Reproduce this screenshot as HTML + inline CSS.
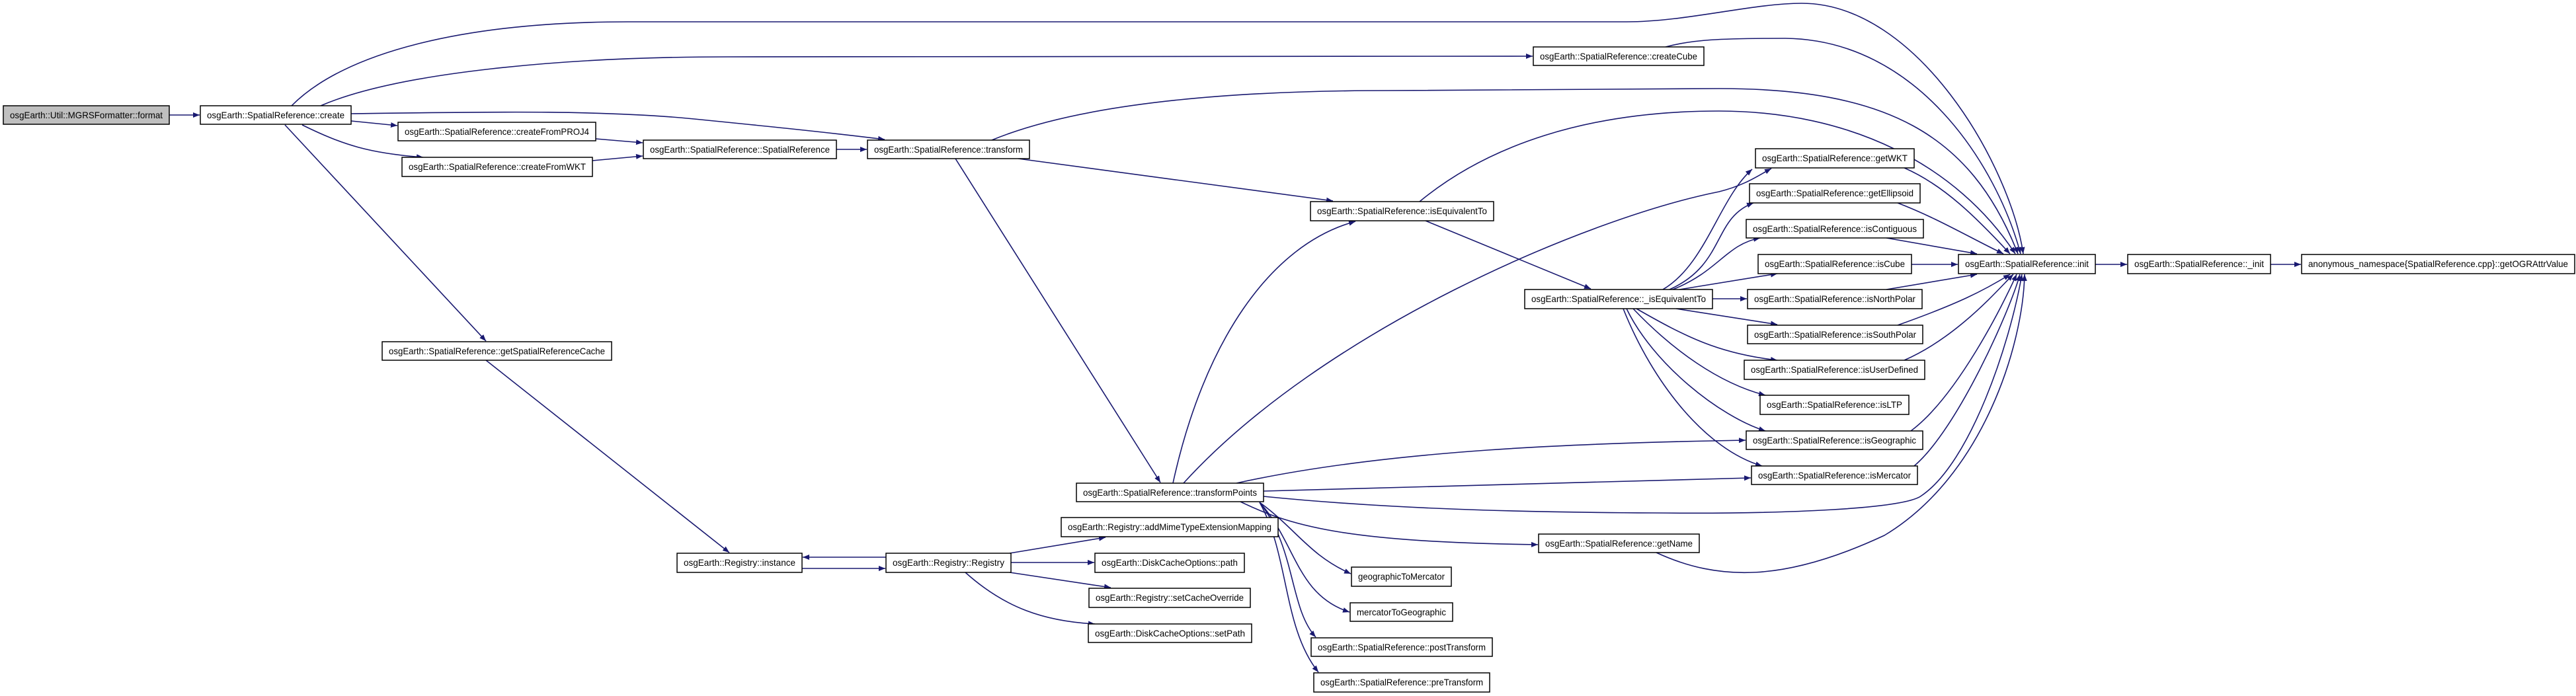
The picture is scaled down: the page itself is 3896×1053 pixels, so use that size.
<!DOCTYPE html>
<html><head><meta charset="utf-8"><style>
html,body{margin:0;padding:0;background:#fff;}
svg{display:block;}
text{font-family:"Liberation Sans",sans-serif;font-size:14px;fill:#000;}
.e{fill:none;stroke:#191970;stroke-width:1.6;}
.n{fill:#fff;stroke:#000;stroke-width:1.5;}
</style></head><body>
<svg width="3896" height="1053" viewBox="0 0 3896 1053" xmlns="http://www.w3.org/2000/svg">
<defs>
<marker id="a" viewBox="0 0 10 10" refX="10" refY="5" markerWidth="10" markerHeight="8" markerUnits="userSpaceOnUse" orient="auto" preserveAspectRatio="none">
<path d="M0,0 L10,5 L0,10 z" fill="#191970"/></marker>
</defs>
<g marker-end="url(#a)">
<path class="e" d="M256,174 L302,174"/>
<path class="e" d="M441,160 C520,80 700,33 950,33 L2460,33 C2550,33 2650,5 2725,5 C2900,5 3040,250 3060,384"/>
<path class="e" d="M485,160 C600,110 850,86 1100,86 L2318,85"/>
<path class="e" d="M2519,71 C2560,60 2600,58 2700,58 C2900,60 3020,250 3056,384"/>
<path class="e" d="M531,172 C700,170 900,165 1050,180 C1150,190 1250,200 1338,211"/>
<path class="e" d="M531,183 L601,190"/>
<path class="e" d="M457,189 C520,220 560,232 640,238"/>
<path class="e" d="M431,189 L735,516"/>
<path class="e" d="M901,210 L972,216"/>
<path class="e" d="M896,243 L972,236"/>
<path class="e" d="M1265,226 L1311,226"/>
<path class="e" d="M1500,212 C1650,150 1900,137 2100,137 L2600,134 C2850,134 2980,200 3052,384"/>
<path class="e" d="M1540,240 L2016,304"/>
<path class="e" d="M1445,240 L1755,730"/>
<path class="e" d="M1774,731 C1820,520 1920,370 2050,335"/>
<path class="e" d="M2147,305 C2250,220 2400,168 2600,168 C2800,168 2960,250 3048,384"/>
<path class="e" d="M1790,731 C2000,500 2400,330 2600,290 C2640,280 2660,265 2679,255"/>
<path class="e" d="M2156,334 L2406,437"/>
<path class="e" d="M2515,438 C2580,400 2600,300 2650,256"/>
<path class="e" d="M2525,438 C2610,400 2590,330 2652,307"/>
<path class="e" d="M2530,438 C2600,410 2610,370 2662,360"/>
<path class="e" d="M2540,438 L2688,414"/>
<path class="e" d="M2590,452 L2642,452"/>
<path class="e" d="M2535,467 L2688,491"/>
<path class="e" d="M2475,467 C2550,510 2600,535 2688,545"/>
<path class="e" d="M2470,467 C2530,530 2600,580 2670,598"/>
<path class="e" d="M2460,467 C2500,550 2600,630 2670,652"/>
<path class="e" d="M2455,467 C2500,580 2580,680 2665,705"/>
<path class="e" d="M2880,254 C2940,280 2990,330 3040,384"/>
<path class="e" d="M2870,307 C2930,330 2980,360 3030,384"/>
<path class="e" d="M2853,360 L2990,384"/>
<path class="e" d="M2891,400 L2961,400"/>
<path class="e" d="M2853,438 L2990,415"/>
<path class="e" d="M2870,492 C2960,460 3000,440 3040,415"/>
<path class="e" d="M2880,545 C2960,510 3020,440 3045,415"/>
<path class="e" d="M2890,652 C2960,600 3030,460 3050,415"/>
<path class="e" d="M2895,705 C2960,650 3040,470 3055,415"/>
<path class="e" d="M1911,751 C2100,770 2300,775 2500,776 C2700,778 2880,770 2906,750 C2980,700 3040,520 3058,415"/>
<path class="e" d="M2505,836 C2600,880 2700,880 2850,810 C3000,720 3060,520 3062,415"/>
<path class="e" d="M3169,400 L3217,400"/>
<path class="e" d="M3434,400 L3480,400"/>
<path class="e" d="M1870,731 C2100,680 2400,670 2640,666"/>
<path class="e" d="M1911,743 L2648,723"/>
<path class="e" d="M1876,759 C1960,800 2050,820 2326,824"/>
<path class="e" d="M1905,760 C1960,800 1980,840 2043,868"/>
<path class="e" d="M1905,760 C1960,820 1960,900 2041,926"/>
<path class="e" d="M1905,760 C1960,830 1950,920 1990,964"/>
<path class="e" d="M1905,760 C1950,840 1940,950 1994,1017"/>
<path class="e" d="M735,545 L1103,836"/>
<path class="e" d="M1340,843 L1214,843"/>
<path class="e" d="M1213,860 L1339,860"/>
<path class="e" d="M1527,837 L1672,813"/>
<path class="e" d="M1529,851 L1655,851"/>
<path class="e" d="M1527,866 L1680,889"/>
<path class="e" d="M1460,866 C1520,920 1580,940 1656,944"/>
</g>
<g>
<rect class="n" x="5" y="160" width="251" height="28" style="fill:#bfbfbf"/><text x="130.5" y="179" text-anchor="middle" textLength="231" lengthAdjust="spacingAndGlyphs">osgEarth::Util::MGRSFormatter::format</text>
<rect class="n" x="303" y="160" width="228" height="28"/><text x="417" y="179" text-anchor="middle" textLength="208" lengthAdjust="spacingAndGlyphs">osgEarth::SpatialReference::create</text>
<rect class="n" x="602" y="185" width="299" height="28"/><text x="751.5" y="204" text-anchor="middle" textLength="279" lengthAdjust="spacingAndGlyphs">osgEarth::SpatialReference::createFromPROJ4</text>
<rect class="n" x="608" y="238" width="288" height="29"/><text x="752" y="257" text-anchor="middle" textLength="268" lengthAdjust="spacingAndGlyphs">osgEarth::SpatialReference::createFromWKT</text>
<rect class="n" x="973" y="212" width="292" height="28"/><text x="1119" y="231" text-anchor="middle" textLength="272" lengthAdjust="spacingAndGlyphs">osgEarth::SpatialReference::SpatialReference</text>
<rect class="n" x="1312" y="212" width="245" height="28"/><text x="1434.5" y="231" text-anchor="middle" textLength="225" lengthAdjust="spacingAndGlyphs">osgEarth::SpatialReference::transform</text>
<rect class="n" x="2319" y="71" width="258" height="28"/><text x="2448" y="90" text-anchor="middle" textLength="238" lengthAdjust="spacingAndGlyphs">osgEarth::SpatialReference::createCube</text>
<rect class="n" x="1982" y="305" width="277" height="29"/><text x="2120.5" y="324" text-anchor="middle" textLength="257" lengthAdjust="spacingAndGlyphs">osgEarth::SpatialReference::isEquivalentTo</text>
<rect class="n" x="2306" y="438" width="284" height="29"/><text x="2448" y="457" text-anchor="middle" textLength="264" lengthAdjust="spacingAndGlyphs">osgEarth::SpatialReference::_isEquivalentTo</text>
<rect class="n" x="2655" y="225" width="240" height="29"/><text x="2775" y="244" text-anchor="middle" textLength="220" lengthAdjust="spacingAndGlyphs">osgEarth::SpatialReference::getWKT</text>
<rect class="n" x="2646" y="278" width="258" height="29"/><text x="2775" y="297" text-anchor="middle" textLength="238" lengthAdjust="spacingAndGlyphs">osgEarth::SpatialReference::getEllipsoid</text>
<rect class="n" x="2641" y="332" width="268" height="28"/><text x="2775" y="351" text-anchor="middle" textLength="248" lengthAdjust="spacingAndGlyphs">osgEarth::SpatialReference::isContiguous</text>
<rect class="n" x="2659" y="385" width="232" height="29"/><text x="2775" y="404" text-anchor="middle" textLength="212" lengthAdjust="spacingAndGlyphs">osgEarth::SpatialReference::isCube</text>
<rect class="n" x="2962" y="385" width="207" height="29"/><text x="3065.5" y="404" text-anchor="middle" textLength="187" lengthAdjust="spacingAndGlyphs">osgEarth::SpatialReference::init</text>
<rect class="n" x="3218" y="385" width="216" height="29"/><text x="3326" y="404" text-anchor="middle" textLength="196" lengthAdjust="spacingAndGlyphs">osgEarth::SpatialReference::_init</text>
<rect class="n" x="3481" y="385" width="413" height="29"/><text x="3687.5" y="404" text-anchor="middle" textLength="393" lengthAdjust="spacingAndGlyphs">anonymous_namespace{SpatialReference.cpp}::getOGRAttrValue</text>
<rect class="n" x="2643" y="438" width="264" height="29"/><text x="2775" y="457" text-anchor="middle" textLength="244" lengthAdjust="spacingAndGlyphs">osgEarth::SpatialReference::isNorthPolar</text>
<rect class="n" x="2643" y="492" width="265" height="28"/><text x="2775.5" y="511" text-anchor="middle" textLength="245" lengthAdjust="spacingAndGlyphs">osgEarth::SpatialReference::isSouthPolar</text>
<rect class="n" x="2638" y="545" width="273" height="29"/><text x="2774.5" y="564" text-anchor="middle" textLength="253" lengthAdjust="spacingAndGlyphs">osgEarth::SpatialReference::isUserDefined</text>
<rect class="n" x="2662" y="598" width="225" height="29"/><text x="2774.5" y="617" text-anchor="middle" textLength="205" lengthAdjust="spacingAndGlyphs">osgEarth::SpatialReference::isLTP</text>
<rect class="n" x="2641" y="652" width="267" height="28"/><text x="2774.5" y="671" text-anchor="middle" textLength="247" lengthAdjust="spacingAndGlyphs">osgEarth::SpatialReference::isGeographic</text>
<rect class="n" x="2649" y="705" width="251" height="28"/><text x="2774.5" y="724" text-anchor="middle" textLength="231" lengthAdjust="spacingAndGlyphs">osgEarth::SpatialReference::isMercator</text>
<rect class="n" x="578" y="517" width="347" height="28"/><text x="751.5" y="536" text-anchor="middle" textLength="327" lengthAdjust="spacingAndGlyphs">osgEarth::SpatialReference::getSpatialReferenceCache</text>
<rect class="n" x="1628" y="731" width="283" height="28"/><text x="1769.5" y="750" text-anchor="middle" textLength="263" lengthAdjust="spacingAndGlyphs">osgEarth::SpatialReference::transformPoints</text>
<rect class="n" x="1024" y="837" width="189" height="29"/><text x="1118.5" y="856" text-anchor="middle" textLength="169" lengthAdjust="spacingAndGlyphs">osgEarth::Registry::instance</text>
<rect class="n" x="1340" y="837" width="189" height="29"/><text x="1434.5" y="856" text-anchor="middle" textLength="169" lengthAdjust="spacingAndGlyphs">osgEarth::Registry::Registry</text>
<rect class="n" x="1605" y="783" width="328" height="29"/><text x="1769" y="802" text-anchor="middle" textLength="308" lengthAdjust="spacingAndGlyphs">osgEarth::Registry::addMimeTypeExtensionMapping</text>
<rect class="n" x="1656" y="837" width="226" height="29"/><text x="1769" y="856" text-anchor="middle" textLength="206" lengthAdjust="spacingAndGlyphs">osgEarth::DiskCacheOptions::path</text>
<rect class="n" x="1647" y="890" width="244" height="29"/><text x="1769" y="909" text-anchor="middle" textLength="224" lengthAdjust="spacingAndGlyphs">osgEarth::Registry::setCacheOverride</text>
<rect class="n" x="1646" y="944" width="247" height="28"/><text x="1769.5" y="963" text-anchor="middle" textLength="227" lengthAdjust="spacingAndGlyphs">osgEarth::DiskCacheOptions::setPath</text>
<rect class="n" x="2044" y="858" width="151" height="29"/><text x="2119.5" y="877" text-anchor="middle" textLength="131" lengthAdjust="spacingAndGlyphs">geographicToMercator</text>
<rect class="n" x="2042" y="912" width="155" height="28"/><text x="2119.5" y="931" text-anchor="middle" textLength="135" lengthAdjust="spacingAndGlyphs">mercatorToGeographic</text>
<rect class="n" x="2327" y="808" width="243" height="28"/><text x="2448.5" y="827" text-anchor="middle" textLength="223" lengthAdjust="spacingAndGlyphs">osgEarth::SpatialReference::getName</text>
<rect class="n" x="1983" y="965" width="274" height="28"/><text x="2120" y="984" text-anchor="middle" textLength="254" lengthAdjust="spacingAndGlyphs">osgEarth::SpatialReference::postTransform</text>
<rect class="n" x="1987" y="1018" width="266" height="29"/><text x="2120" y="1037" text-anchor="middle" textLength="246" lengthAdjust="spacingAndGlyphs">osgEarth::SpatialReference::preTransform</text>
</g>
</svg>
</body></html>
